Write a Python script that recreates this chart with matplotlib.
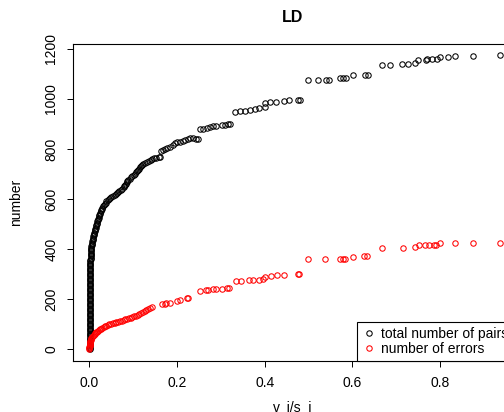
import matplotlib
matplotlib.use("Agg")
import matplotlib.pyplot as plt
from matplotlib.lines import Line2D

plt.rcParams['font.family'] = ['Liberation Sans', 'DejaVu Sans']

# ---- data ----
# total number of pairs: near-vertical dense part at v_i/s_i ~ 0
pairs_x = [0.001] * 67 + [
    0.0015, 0.0018, 0.002, 0.0023, 0.0026, 0.0028, 0.003, 0.0033, 0.0036, 0.0038,
    0.004, 0.0042, 0.0044, 0.0045, 0.0046, 0.0048, 0.0055, 0.006, 0.0065, 0.007,
    0.0075, 0.008, 0.009, 0.0095, 0.010, 0.011, 0.0115, 0.0125, 0.013, 0.014,
    0.0145, 0.015, 0.016, 0.017, 0.0175, 0.018, 0.019, 0.020, 0.021, 0.022,
    0.023, 0.0235, 0.0245, 0.026, 0.0275, 0.029, 0.030, 0.032, 0.034, 0.035,
    0.037, 0.039, 0.042, 0.045, 0.047, 0.050, 0.054, 0.058, 0.061, 0.063,
    0.065, 0.068, 0.072, 0.075, 0.078, 0.080, 0.082, 0.084, 0.085, 0.087,
    0.089, 0.092, 0.095, 0.098, 0.101, 0.104, 0.106, 0.108, 0.110, 0.113,
    0.116, 0.118, 0.120, 0.122, 0.126, 0.131, 0.136, 0.140, 0.144, 0.148,
    0.153, 0.158, 0.161,
    0.163, 0.167, 0.172, 0.177, 0.184, 0.190, 0.196, 0.200, 0.207,
    0.213, 0.218, 0.224, 0.230, 0.236, 0.243, 0.249, 0.252, 0.260, 0.268,
    0.275, 0.283, 0.290, 0.302, 0.310, 0.317, 0.321,
    0.332, 0.344, 0.355, 0.367, 0.378, 0.386, 0.401, 0.401, 0.412, 0.427,
    0.443, 0.456, 0.477, 0.481,
    0.500, 0.521, 0.540, 0.547, 0.572, 0.579, 0.585, 0.601, 0.629, 0.635,
    0.668, 0.686, 0.713, 0.728, 0.743, 0.750, 0.767, 0.770, 0.781, 0.792,
    0.801, 0.819, 0.834, 0.876, 0.937]
pairs_y = [
    0, 5, 10, 15, 20, 25, 30, 35, 40, 45, 50, 55, 60, 65, 70, 75, 80, 85, 90, 95,
    100, 105, 110, 115, 120, 125, 130, 135, 140, 145, 150, 155, 160, 165, 170, 175,
    180, 185, 190, 195, 200, 205, 210, 215, 220, 225, 230, 235, 240, 245, 250, 255,
    260, 265, 270, 275, 280, 285, 290, 295, 300, 305, 310, 315, 320, 325, 330,
    335, 340, 345, 350, 355, 360, 365, 370, 375, 380,
    385, 390, 395, 400, 405, 410, 415, 420, 425, 430,
    435, 440, 445, 450, 455, 460, 465, 470, 475, 480,
    485, 490, 495, 500, 505, 510, 515, 520, 525, 530,
    535, 540, 545, 550, 555, 560, 565, 570, 575, 580,
    585, 590, 595, 600, 603, 607, 611, 615, 619, 623,
    627, 631, 636, 641, 646, 651, 656, 661, 666, 671,
    676, 681, 686, 691, 696, 701, 706, 711, 716, 721,
    726, 731, 736, 741, 745, 749, 753, 757, 761, 763,
    765, 767, 769,
    790, 797, 800, 804, 809, 815, 822, 826, 829,
    833, 836, 840, 842, 843, 841, 840, 878, 880, 884,
    887, 890, 892, 895, 897, 899, 899,
    949, 952, 952, 955, 960, 964, 967, 983, 987, 989,
    993, 996, 997, 997,
    1077, 1077, 1077, 1077, 1085, 1085, 1085, 1096, 1096, 1096,
    1135, 1135, 1139, 1139, 1143, 1157, 1157, 1161, 1161, 1161,
    1169, 1169, 1172, 1172, 1176]

errors_x = [
    0.000, 0.000, 0.000, 0.0005, 0.001, 0.001, 0.0015, 0.002, 0.0025, 0.003,
    0.004, 0.005, 0.0065, 0.008, 0.010, 0.012, 0.014, 0.016, 0.018, 0.020,
    0.022, 0.024, 0.027, 0.030, 0.033, 0.036, 0.039, 0.042, 0.046, 0.050,
    0.054, 0.058, 0.062, 0.066, 0.070, 0.074, 0.078, 0.082, 0.086, 0.090,
    0.094, 0.098, 0.102, 0.106, 0.110, 0.114, 0.118, 0.122, 0.126, 0.130,
    0.134, 0.138, 0.142,
    0.165, 0.172, 0.176, 0.183, 0.199, 0.207, 0.222, 0.226,
    0.253, 0.266, 0.270, 0.283, 0.290, 0.302, 0.313, 0.319,
    0.334, 0.345, 0.365, 0.374, 0.386, 0.397, 0.401, 0.414, 0.429, 0.445,
    0.477, 0.479, 0.500, 0.538, 0.572, 0.578, 0.583, 0.601, 0.627, 0.633,
    0.668, 0.715, 0.743, 0.752, 0.766, 0.776, 0.786, 0.791, 0.800, 0.834,
    0.876, 0.937]
errors_y = [
    0, 4, 8, 12, 16, 20, 24, 28, 32, 36,
    40, 44, 48, 52, 56, 60, 63, 66, 69, 72,
    75, 78, 81, 84, 87, 90, 93, 96, 99, 101,
    103, 105, 107, 109, 111, 113, 115, 118, 120, 123,
    125, 128, 130, 133, 136, 139, 142, 146, 150, 154,
    158, 163, 168,
    179, 181, 183, 185, 193, 196, 203, 203,
    232, 235, 235, 238, 240, 241, 242, 242,
    273, 273, 277, 277, 277, 281, 289, 292, 296, 296,
    299, 301, 359, 359, 361, 361, 361, 369, 373, 373,
    403, 403, 407, 416, 416, 416, 416, 416, 423, 423,
    423, 423]

x_ticks = [0.0, 0.2, 0.4, 0.6, 0.8]
y_ticks = [0, 200, 400, 600, 800, 1000, 1200]
legend_labels = ["total number of pairs", "number of errors"]

W, H = 504, 412
fig = plt.figure(figsize=(W / 100, H / 100), dpi=100)
ax_l, ax_r, ax_t, ax_b = 73, 513, 43.7, 361
ax = fig.add_axes([ax_l / W, 1 - ax_b / H, (ax_r - ax_l) / W, (ax_b - ax_t) / H])

ms = 3.9
ax.plot(pairs_x, pairs_y, linestyle='none', marker='o', markersize=ms,
        markerfacecolor='none', markeredgecolor='black', markeredgewidth=0.75)
ax.plot(errors_x, errors_y, linestyle='none', marker='o', markersize=ms,
        markerfacecolor='none', markeredgecolor='red', markeredgewidth=0.75)

ax.set_xlim(-0.0372, 0.9665)
ax.set_ylim(-48, 1221)
ax.set_xticks(x_ticks)
ax.set_xticklabels([f"{v:.1f}" for v in x_ticks])
ax.set_yticks(y_ticks)
ax.set_yticklabels([str(v) for v in y_ticks])
ax.tick_params(axis='both', direction='out', length=4.5, width=0.7,
               labelsize=10, colors='black', pad=6)
ax.tick_params(axis='y', labelrotation=90)
for lab in ax.get_yticklabels():
    lab.set_verticalalignment('center')
for s in ax.spines.values():
    s.set_linewidth(0.8)
    s.set_color('black')

fig.text(293 / W, 1 - 18 / H, "LD", ha='center', va='center',
         fontsize=11.5, fontweight='bold')
fig.text(16 / W, 1 - 202 / H, "number", ha='center', va='center',
         rotation=90, fontsize=10)
fig.text(293 / W, 1 - 400 / H, "v_i/s_i", ha='center', va='top', fontsize=10)

handles = [Line2D([], [], linestyle='none', marker='o', markersize=ms,
                  markerfacecolor='none', markeredgecolor=c, markeredgewidth=0.75)
           for c in ['black', 'red']]
leg = ax.legend(handles, legend_labels, loc='lower right', bbox_to_anchor=(1, 0),
                borderaxespad=0, fontsize=10, frameon=True, fancybox=False,
                edgecolor='black', handlelength=1.0, handletextpad=0.37,
                borderpad=0.35, labelspacing=0.1, framealpha=1)
leg.get_frame().set_linewidth(0.8)

fig.savefig("out.png", dpi=100)
